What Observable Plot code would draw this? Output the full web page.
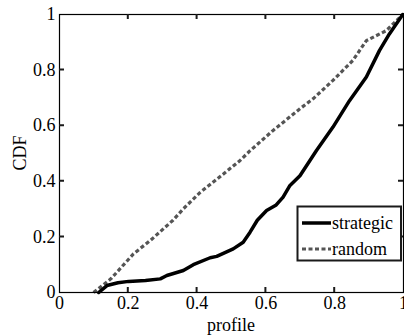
<!DOCTYPE html>
<html>
<head>
<meta charset="utf-8">
<script src="https://cdn.jsdelivr.net/npm/d3@7"></script>
<script src="https://cdn.jsdelivr.net/npm/@observablehq/plot@0.6"></script>
<style>
  html, body { margin: 0; padding: 0; background: #fff; }
  #chart svg { display: block; }
</style>
</head>
<body>
<div id="chart"></div>
<script>
const strategicX = [0.114, 0.138, 0.17, 0.201, 0.25, 0.293, 0.312, 0.36, 0.389, 0.438, 0.457, 0.505, 0.534, 0.554, 0.575, 0.602, 0.63, 0.65, 0.67, 0.699, 0.747, 0.795, 0.843, 0.892, 0.93, 0.959, 0.998];
const strategicY = [0, 0.025, 0.035, 0.04, 0.043, 0.049, 0.061, 0.079, 0.1, 0.125, 0.13, 0.157, 0.181, 0.217, 0.26, 0.295, 0.315, 0.343, 0.385, 0.42, 0.511, 0.595, 0.69, 0.775, 0.87, 0.93, 1];
const randomX = [0.099, 0.15, 0.215, 0.264, 0.33, 0.36, 0.409, 0.48, 0.525, 0.554, 0.621, 0.699, 0.74, 0.795, 0.853, 0.892, 0.95, 0.998];
const randomY = [0, 0.05, 0.139, 0.187, 0.26, 0.301, 0.36, 0.43, 0.475, 0.51, 0.583, 0.661, 0.70, 0.763, 0.835, 0.906, 0.942, 1];
const ticks = [0, 0.2, 0.4, 0.6, 0.8, 1];
const seriesNames = ["strategic", "random"];

const strategic = strategicX.map((x, i) => ({x, y: strategicY[i]}));
const random = randomX.map((x, i) => ({x, y: randomY[i]}));

const W = 404, H = 335;
const mt = 14, mb = 43, ml = 59, mr = 1;
const ph = H - mt - mb, pw = W - ml - mr;
const font = "'Liberation Serif', 'Times New Roman', serif";

const chart = Plot.plot({
  width: W, height: H,
  marginTop: mt, marginBottom: mb, marginLeft: ml, marginRight: mr,
  style: {fontFamily: font, fontSize: "18px", background: "#fff", color: "#000"},
  x: {domain: [0, 1]},
  y: {domain: [0, 1]},
  marks: [
    Plot.axisX(ticks, {tickSize: 0, tickPadding: 4, tickFormat: d => String(d), fontSize: 18, label: null}),
    Plot.axisY(ticks, {tickSize: 0, tickPadding: 4, tickFormat: d => String(d), fontSize: 18, label: null}),
    Plot.line(random, {x: "x", y: "y", stroke: "#555", strokeWidth: 3.2, strokeDasharray: "4,2.5", strokeLinecap: "butt"}),
    Plot.line(strategic, {x: "x", y: "y", stroke: "#000", strokeWidth: 3.5}),
    Plot.frame({stroke: "#000", strokeWidth: 1.2})
  ]
});

const svg = d3.select(chart);
const xs = chart.scale("x"), ys = chart.scale("y");
const g = svg.append("g");
// inward tick marks on all four sides (MATLAB style)
ticks.slice(1, -1).forEach(t => {
  const px = xs.apply(t), py = ys.apply(t);
  g.append("path").attr("d", `M${px},${H - mb}v-5M${px},${mt}v5`).attr("stroke", "#1a1a1a").attr("stroke-width", 2);
  g.append("path").attr("d", `M${ml},${py}h5M${W - mr},${py}h-5`).attr("stroke", "#1a1a1a").attr("stroke-width", 2);
});
// legend box
g.append("path").attr("d", "M297.5,206.5H401V260.5H297.5Z").attr("fill", "white").attr("stroke", "#1a1a1a").attr("stroke-width", 2);

// axis titles
svg.append("text").attr("x", ml + pw / 2).attr("y", H - 4)
  .attr("text-anchor", "middle").style("font-family", font).style("font-size", "18px").text("profile");
svg.append("text").attr("transform", `translate(26,${mt + ph / 2}) rotate(-90)`)
  .attr("text-anchor", "middle").style("font-family", font).style("font-size", "18px").text("CDF");

// legend entries
const lg = svg.append("g").style("font-family", font).style("font-size", "18px");
const styles = [
  {stroke: "#000", dash: "none", w: 3.5},
  {stroke: "#555", dash: "4,2.5", w: 3.2}
];
seriesNames.forEach((name, i) => {
  const y = 223 + i * 26;
  lg.append("line").attr("x1", 302).attr("x2", 331).attr("y1", y).attr("y2", y)
    .style("stroke", styles[i].stroke).style("stroke-width", styles[i].w + "px")
    .style("stroke-dasharray", styles[i].dash);
  lg.append("text").attr("x", 332).attr("y", y).attr("dy", "0.32em")
    .attr("text-anchor", "start").style("fill", "#000").text(name);
});

document.getElementById("chart").appendChild(chart);
</script>
</body>
</html>
